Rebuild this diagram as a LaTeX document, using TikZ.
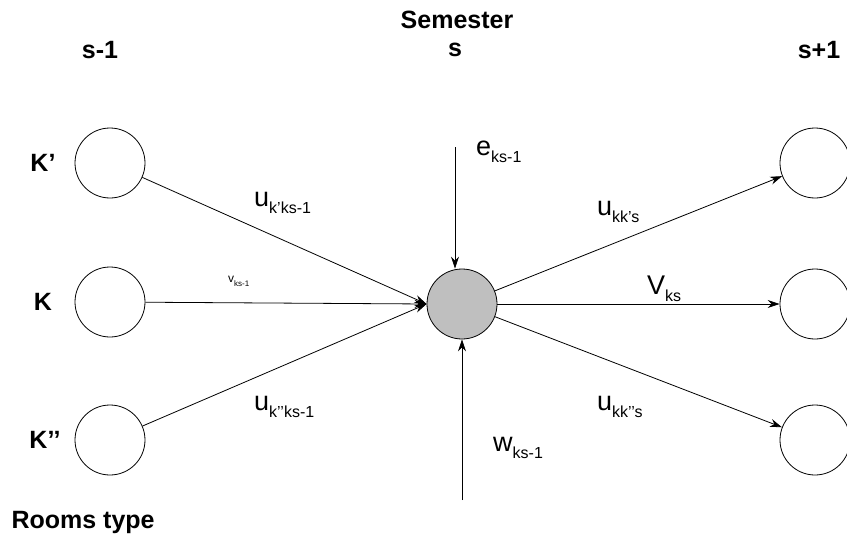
\documentclass[tikz,border=0pt]{standalone}
\usepackage{fontspec}
\setmainfont{Liberation Sans}
\usetikzlibrary{arrows.meta}
\newcommand{\flowlab}[2]{{\fontsize{27}{30}\selectfont #1}{\fontsize{16}{18}\selectfont\raisebox{-7pt}{#2}}}
\begin{document}
\begin{tikzpicture}[x=1pt,y=-1pt,
  room/.style={circle,draw,line width=0.8pt,minimum size=70pt,inner sep=0pt},
  hub/.style={room,fill=gray!50},
  flow/.style={line width=0.8pt,-{Stealth[length=12pt,width=8pt]}},
  head/.style={font=\bfseries\fontsize{25}{27}\selectfont},
  lab/.style={inner sep=0pt}]
\useasboundingbox (0,0) rectangle (847,538);
\node[room] (L1) at (110,163) {};
\node[room] (L2) at (110,302) {};
\node[room] (L3) at (110,440) {};
\node[hub] (C) at (462,304) {};
\node[room] (R1) at (815,163) {};
\node[room] (R2) at (815,304) {};
\node[room] (R3) at (815,440) {};
\coordinate (etop) at (455,147);
\coordinate (wbot) at (462,500);
\node[head] (sem) at (457,20) {Semester};
\node[head] (s) at (455,50) {s};
\node[head] (sm) at (100,50) {s-1};
\node[head] (sp) at (819,50) {s+1};
\node[head] (k1) at (43,163) {K’};
\node[head] (k2) at (43,302) {K};
\node[head] (k3) at (45,440) {K’’};
\node[head,anchor=west] (rt) at (8,522) {Rooms type};
\draw[flow] (L1) -- (C.west);
\draw[flow] (L2) -- (C.west);
\draw[flow] (L3) -- (C.west);
\draw[flow] (C) -- (R1);
\draw[flow] (C) -- (R2);
\draw[flow] (C) -- (R3);
\draw[flow] (etop) -- (etop |- C.north);
\draw[flow] (wbot) -- (C.south);
\node[lab,anchor=west] (le) at (476,152) {\flowlab{e}{ks-1}};
\node[lab,anchor=west] (lu1) at (254,203) {\flowlab{u}{k’ks-1}};
\node[lab,anchor=west] (lv1) at (228,281) {{\fontsize{12}{14}\selectfont v}{\fontsize{8}{10}\selectfont\raisebox{-4pt}{ks-1}}};
\node[lab,anchor=west] (lu3) at (254,407) {\flowlab{u}{k’’ks-1}};
\node[lab,anchor=west] (lw) at (493,448) {\flowlab{w}{ks-1}};
\node[lab,anchor=west] (lu4) at (597,212) {\flowlab{u}{kk’s}};
\node[lab,anchor=west] (lv2) at (647,289) {\flowlab{V}{ks}};
\node[lab,anchor=west] (lu5) at (597,407) {\flowlab{u}{kk’’s}};
\end{tikzpicture}
\end{document}
